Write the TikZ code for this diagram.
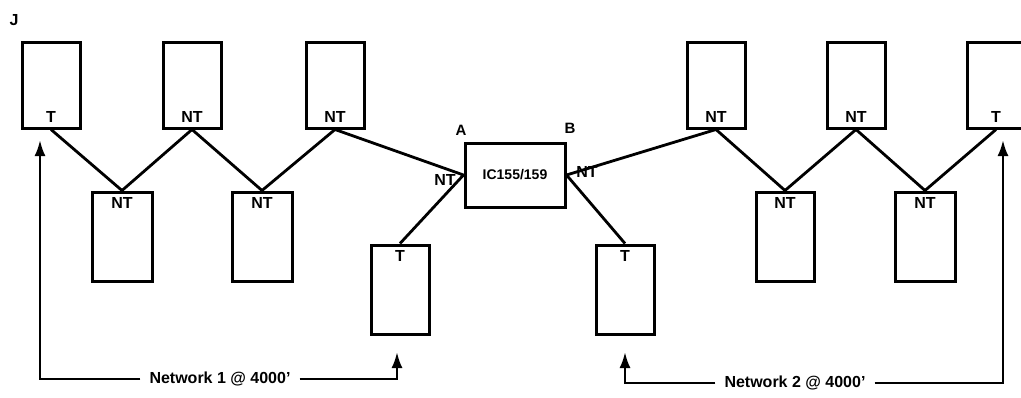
\documentclass[tikz,border=0pt]{standalone}
\usepackage{fontspec}
\setmainfont{Liberation Sans}
\usetikzlibrary{arrows.meta}

\tikzset{
  unit/.style={draw, line width=3pt, minimum width=58pt, minimum height=86pt, inner sep=0pt},
  bottag/.style={label={[anchor=south, inner sep=0pt, yshift=7pt]south:#1}},
  toptag/.style={label={[anchor=north, inner sep=0pt, yshift=-7pt]north:#1}},
  tag/.style={font=\fontsize{16}{18}\selectfont\bfseries, inner sep=0pt},
  link/.style={line width=2.8pt, line join=round},
  feed/.style={line width=2.6pt, -{Latex[length=16pt,width=11pt]}}
}

\begin{document}
\begin{tikzpicture}[x=1pt, y=-1pt, every label/.style={font=\fontsize{16}{18}\selectfont\bfseries}]
\useasboundingbox (0,0) rectangle (1021,397);

\node[tag] (fig) at (14,20) {J};

% network 1
\node[unit, bottag=T] at (51,85) (ltop1) {};
\node[unit, bottag=NT] at (192,85) (ltop2) {};
\node[unit, bottag=NT] at (335,85) (ltop3) {};
\node[unit, toptag=NT, minimum width=60pt, minimum height=89pt] at (122,236.5) (llow1) {};
\node[unit, toptag=NT, minimum width=60pt, minimum height=89pt] at (262,236.5) (llow2) {};
\node[unit, toptag=T, minimum height=89pt] at (400,289.5) (lterm) {};

% interconnect
\node[draw, line width=3pt, minimum width=100pt, minimum height=64pt, font=\fontsize{14}{16}\selectfont\bfseries] at (515,175) (ic) {IC155/159};
\node[tag, font=\fontsize{15}{17}\selectfont\bfseries] (porta) at (461,130) {A};
\node[tag, font=\fontsize{15}{17}\selectfont\bfseries] (portb) at (570,128) {B};
\node[tag] (nta) at (445,180) {NT};
\node[tag] (ntb) at (587,172) {NT};

% network 2
\node[unit, bottag=NT] at (716,85) (rtop1) {};
\node[unit, bottag=NT] at (856,85) (rtop2) {};
\node[unit, bottag=T] at (996,85) (rtop3) {};
\node[unit, toptag=NT, minimum width=58pt, minimum height=89pt] at (785,236.5) (rlow1) {};
\node[unit, toptag=NT, minimum width=60pt, minimum height=89pt] at (925,236.5) (rlow2) {};
\node[unit, toptag=T, minimum height=89pt] at (625,289.5) (rterm) {};

\draw[link] (ltop1.south) -- (llow1.north) -- (ltop2.south) -- (llow2.north) -- (ltop3.south) -- (ic.west) -- (lterm.north);
\draw[link] (rterm.north) -- (ic.east) -- (rtop1.south) -- (rlow1.north) -- (rtop2.south) -- (rlow2.north) -- (rtop3.south);

% span arrows
\node[tag, inner xsep=9pt] (net1) at (220,379) {Network 1 @ 4000'};
\coordinate (net1top) at (40,140);
\coordinate (net1end) at (397,352);
\draw[feed] (net1.west) -| (net1top);
\draw[feed] (net1.east) -| (net1end);

\node[tag, inner xsep=9pt] (net2) at (795,383) {Network 2 @ 4000'};
\coordinate (net2end) at (625,352);
\coordinate (net2top) at (1003,140);
\draw[feed] (net2.west) -| (net2end);
\draw[feed] (net2.east) -| (net2top);
\end{tikzpicture}
\end{document}
